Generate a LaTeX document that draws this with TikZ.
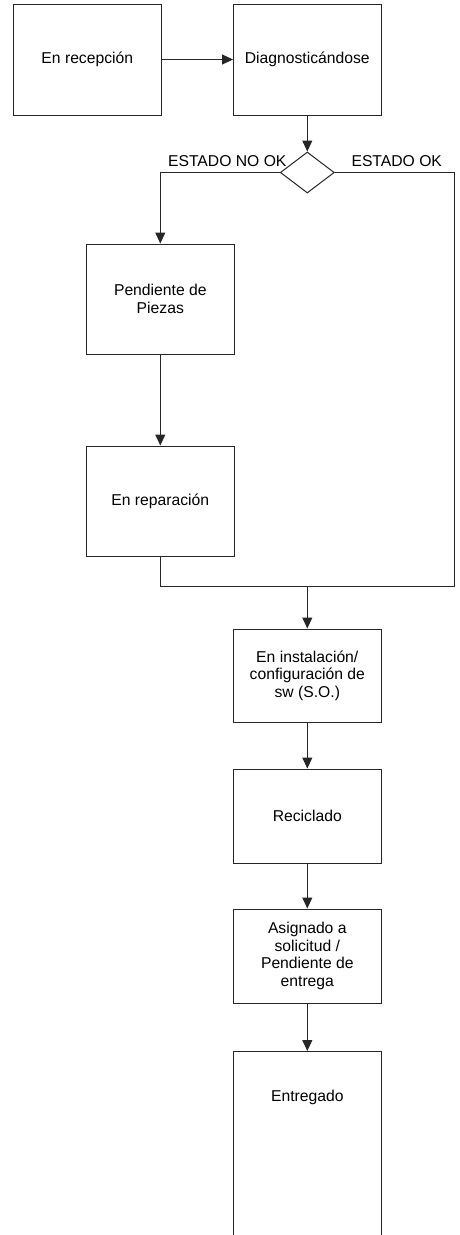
\documentclass[tikz,border=0pt]{standalone}
\usepackage{fontspec}
\setmainfont{Liberation Sans}
\usetikzlibrary{shapes.geometric,arrows.meta}
\begin{document}
\begin{tikzpicture}[x=1pt,y=-1pt,
  txt/.style={font=\fontsize{15.7}{17.5}\selectfont},
  box/.style={draw=black!85, line width=1pt, txt, align=center, minimum width=147.5pt, inner sep=0pt},
  conn/.style={draw=black!85, line width=1pt},
  arr/.style={conn, -{Triangle[length=11pt,width=10pt]}},
  dia/.style={draw=black!85, line width=1pt, diamond, minimum width=54pt, minimum height=41pt, inner sep=0pt}]
\useasboundingbox (0,0) rectangle (459,1235);
\clip (0,0) rectangle (459,1235);
\fill[white] (0,0) rectangle (459,1235);
\node[box, minimum height=111pt] (rec) at (87.3,59.5) {En recepción};
\node[box, minimum height=111pt] (diag) at (307.3,59.5) {Diagnosticándose};
\node[dia] (dec) at (307.3,172.5) {};
\node[box, minimum height=110pt] (pend) at (160.3,299) {Pendiente de\\Piezas};
\node[box, minimum height=110pt] (rep) at (160.3,501) {En reparación};
\node[box, minimum height=93pt] (inst) at (307.3,675.5) {En instalación/\\configuración de\\sw (S.O.)};
\node[box, minimum height=94pt] (recic) at (307.3,816) {Reciclado};
\node[box, minimum height=94pt] (asig) at (307.3,956) {Asignado a\\solicitud /\\Pendiente de\\entrega};
\node[box, minimum height=210pt, anchor=north,
  label={[txt, anchor=center, yshift=-46pt]north:Entregado}] (entr) at (307.3,1051) {};
\node[txt, anchor=base east] (lno) at (290,166) {ESTADO NO OK};
\node[txt, anchor=base west] (lok) at (348,166) {ESTADO OK};
\coordinate (j) at (307.3,586);
\coordinate (rc) at (454.5,586);
\draw[arr] (rec.east) -- (diag.west);
\draw[arr] (diag.south) -- (dec.north);
\draw[arr] (dec.west) -| (pend.north);
\draw[conn] (dec.east) -| (rc) -- (j);
\draw[arr] (pend.south) -- (rep.north);
\draw[conn] (rep.south) |- (j);
\draw[arr] (j) -- (inst.north);
\draw[arr] (inst.south) -- (recic.north);
\draw[arr] (recic.south) -- (asig.north);
\draw[arr] (asig.south) -- (entr.north);
\end{tikzpicture}
\end{document}
